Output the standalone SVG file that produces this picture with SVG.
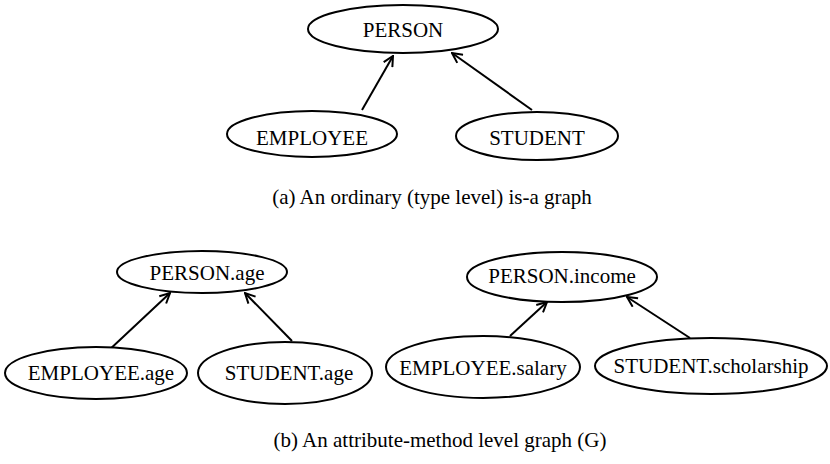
<svg xmlns="http://www.w3.org/2000/svg" width="830" height="464" viewBox="0 0 830 464" font-family="'Liberation Serif', 'Times New Roman', Times, 'DejaVu Serif', serif">
<defs>
<style>
.n ellipse{fill:#fff;stroke:#000;stroke-width:2}
.n text{font-size:21px;text-anchor:middle;fill:#000}
.cap{font-size:21px;text-anchor:middle;fill:#000}
.e line{stroke:#000;stroke-width:2;marker-end:url(#ah)}
</style>
<marker id="ah" viewBox="0 0 12 12" refX="11" refY="6" markerWidth="12" markerHeight="12" markerUnits="userSpaceOnUse" orient="auto">
<polyline points="1,1 11,6 1,11" fill="none" stroke="#000" stroke-width="2"/>
</marker>
</defs>
<rect width="830" height="464" fill="#fff"/>
<g class="e" id="connectors">
<line x1="362" y1="110" x2="393" y2="56"/>
<line x1="532" y1="110" x2="452" y2="53"/>
<line x1="107" y1="352" x2="170" y2="293"/>
<line x1="292" y1="341" x2="245" y2="293"/>
<line x1="510" y1="336" x2="547" y2="302"/>
<line x1="690" y1="338" x2="627" y2="297"/>
</g>
<g class="n" id="person"><ellipse cx="403" cy="29" rx="95" ry="24"/><text x="403" y="37">PERSON</text></g>
<g class="n" id="employee"><ellipse cx="312" cy="134" rx="85" ry="23"/><text x="312" y="145">EMPLOYEE</text></g>
<g class="n" id="student"><ellipse cx="537" cy="136" rx="81" ry="24"/><text x="537" y="145">STUDENT</text></g>
<text class="cap" x="432" y="204">(a) An ordinary (type level) is-a graph</text>
<g class="n" id="person_age"><ellipse cx="202" cy="272" rx="85" ry="21"/><text x="207" y="280">PERSON.age</text></g>
<g class="n" id="employee_age"><ellipse cx="96" cy="373" rx="91" ry="26"/><text x="101" y="380">EMPLOYEE.age</text></g>
<g class="n" id="student_age"><ellipse cx="285" cy="373" rx="87" ry="31"/><text x="289" y="380">STUDENT.age</text></g>
<g class="n" id="person_income"><ellipse cx="562" cy="277" rx="95" ry="25"/><text x="562" y="283">PERSON.income</text></g>
<g class="n" id="employee_salary"><ellipse cx="483" cy="367" rx="97" ry="31"/><text x="483" y="375">EMPLOYEE.salary</text></g>
<g class="n" id="student_scholarship"><ellipse cx="711" cy="366" rx="116" ry="28"/><text x="711" y="373">STUDENT.scholarship</text></g>
<text class="cap" x="440" y="447">(b) An attribute-method level graph (G)</text>
</svg>
